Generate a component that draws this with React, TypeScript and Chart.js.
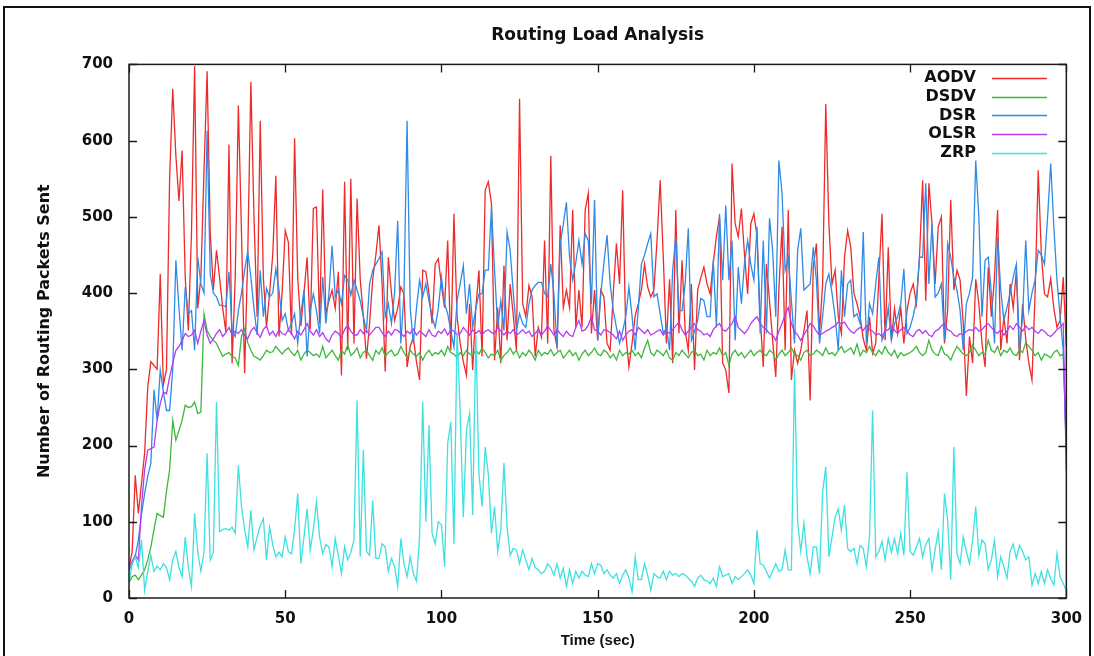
import React, { useEffect, useRef } from "react";
import { Chart, registerables } from "chart.js";

Chart.register(...registerables);

// Simulation time in seconds (x categories)
const TIMES: number[] = Array.from({ length: 301 }, (_, i) => i);

const X_TICKS = [0, 50, 100, 150, 200, 250, 300];
const Y_TICKS = [0, 100, 200, 300, 400, 500, 600, 700];

const SERIES_NAMES = ["AODV", "DSDV", "DSR", "OLSR", "ZRP"];
const SERIES_COLORS = ["#ee2a2a", "#3cb83c", "#2f8be6", "#b43cf0", "#3ee0e0"];

const AODV: number[] = [
  40, 60, 161, 111, 150, 190, 277, 310, 305, 300,
  425, 280, 300, 550, 668, 580, 521, 587, 420, 351,
  480, 698, 380, 420, 560, 691, 480, 404, 456, 420,
  380, 349, 595, 308, 420, 646, 480, 295, 450, 677,
  500, 369, 626, 420, 355, 400, 450, 554, 343, 400,
  482, 467, 345, 603, 420, 357, 400, 447, 353, 511,
  513, 360, 536, 373, 390, 404, 380, 428, 292, 546,
  325, 550, 334, 524, 418, 370, 314, 360, 418, 450,
  489, 412, 297, 447, 400, 364, 380, 408, 399, 303,
  330, 342, 310, 286, 430, 428, 400, 360, 438, 445,
  410, 381, 469, 325, 504, 369, 334, 310, 292, 386,
  299, 380, 430, 317, 535, 546, 518, 312, 381, 308,
  436, 338, 412, 370, 325, 655, 386, 369, 410, 395,
  317, 355, 342, 469, 334, 580, 351, 329, 489, 381,
  404, 381, 509, 355, 404, 355, 509, 531, 347, 404,
  338, 404, 395, 334, 325, 400, 465, 412, 535, 347,
  303, 334, 370, 386, 404, 438, 408, 395, 404, 469,
  548, 447, 334, 418, 308, 509, 347, 443, 351, 325,
  412, 299, 404, 420, 434, 412, 399, 440, 474, 500,
  308, 299, 269, 570, 491, 474, 511, 450, 399, 491,
  504, 474, 369, 303, 438, 390, 338, 290, 404, 487,
  325, 509, 286, 325, 308, 325, 350, 377, 259, 434,
  465, 347, 412, 648, 491, 412, 430, 369, 347, 447,
  482, 460, 400, 386, 369, 340, 325, 369, 321, 334,
  420, 504, 338, 460, 338, 380, 347, 381, 334, 377,
  400, 412, 386, 447, 548, 390, 544, 491, 412, 487,
  500, 334, 377, 522, 404, 430, 417, 360, 265, 343,
  308, 418, 386, 334, 303, 434, 369, 420, 509, 325,
  369, 334, 412, 380, 430, 312, 386, 340, 308, 286,
  400, 561, 450, 399, 395, 419, 380, 355, 364, 421,
  330,
];

const DSDV: number[] = [
  20, 28, 30, 24, 30, 37, 50, 67, 90, 111,
  108, 106, 140, 168, 233, 207, 220, 233, 253, 250,
  251, 257, 242, 244, 373, 351, 343, 338, 334, 325,
  317, 320, 322, 317, 315, 305, 343, 353, 335, 325,
  317, 315, 312, 318, 325, 322, 323, 330, 325, 320,
  325, 328, 322, 318, 325, 312, 320, 325, 322, 318,
  320, 316, 330, 315, 320, 325, 318, 312, 325, 320,
  332, 318, 322, 328, 315, 322, 325, 318, 312, 325,
  320, 328, 317, 322, 325, 318, 320, 330, 322, 315,
  325, 320, 317, 322, 312, 320, 325, 318, 322, 320,
  325, 318, 330, 322, 320, 315, 322, 318, 325, 320,
  318, 325, 320, 328, 322, 315, 320, 318, 325, 312,
  318, 322, 328, 320, 325, 315, 322, 318, 325, 320,
  312, 325, 318, 322, 320, 326, 318, 322, 325, 315,
  320, 325, 318, 322, 312, 320, 325, 318, 322, 328,
  320, 318, 325, 322, 315, 320, 312, 325, 318, 322,
  320, 325, 318, 322, 315, 328, 338, 322, 318, 325,
  322, 318, 325, 315, 312, 322, 318, 325, 320, 315,
  322, 325, 318, 320, 312, 325, 318, 322, 320, 328,
  318, 322, 305, 320, 325, 318, 322, 315, 320, 325,
  318, 322, 325, 320, 318, 325, 322, 312, 320, 325,
  318, 322, 328, 320, 318, 312, 322, 325, 318, 320,
  325, 322, 318, 328, 320, 322, 318, 325, 330, 322,
  325, 328, 320, 333, 318, 325, 322, 330, 322, 318,
  325, 320, 330, 322, 318, 325, 315, 322, 318, 320,
  322, 325, 330, 322, 318, 322, 338, 325, 320, 318,
  330, 320, 318, 312, 322, 330, 325, 320, 318, 322,
  332, 325, 318, 322, 320, 338, 325, 322, 330, 318,
  325, 322, 328, 320, 318, 325, 322, 335, 330, 325,
  318, 322, 312, 320, 318, 315, 322, 325, 318, 320,
  200,
];

const DSR: number[] = [
  36, 45, 55, 76, 110, 137, 160, 177, 273, 233,
  299, 270, 246, 246, 300, 443, 380, 325, 408, 373,
  377, 325, 447, 412, 400, 613, 425, 400, 395, 384,
  384, 382, 428, 351, 343, 377, 400, 430, 454, 421,
  380, 345, 430, 369, 406, 395, 400, 432, 404, 364,
  373, 351, 360, 373, 334, 373, 404, 317, 377, 399,
  377, 347, 421, 360, 400, 462, 395, 404, 386, 423,
  417, 397, 417, 404, 390, 369, 351, 412, 430, 438,
  445, 454, 369, 386, 360, 400, 495, 334, 400, 626,
  381, 334, 380, 417, 395, 412, 390, 369, 355, 380,
  421, 386, 373, 350, 329, 390, 412, 436, 373, 412,
  355, 380, 399, 399, 430, 430, 513, 430, 355, 390,
  351, 480, 456, 400, 351, 373, 360, 355, 386, 404,
  410, 414, 414, 400, 395, 438, 399, 329, 465, 490,
  519, 447, 417, 440, 469, 438, 478, 469, 386, 522,
  338, 399, 440, 476, 412, 377, 355, 334, 350, 369,
  408, 370, 325, 380, 438, 450, 465, 478, 395, 399,
  373, 347, 355, 325, 430, 474, 377, 377, 412, 485,
  338, 350, 364, 393, 390, 369, 369, 443, 355, 504,
  417, 515, 417, 469, 338, 434, 386, 440, 469, 438,
  417, 487, 347, 469, 347, 498, 456, 369, 574, 531,
  430, 447, 390, 334, 456, 485, 404, 408, 412, 460,
  417, 334, 370, 412, 425, 400, 369, 325, 430, 369,
  412, 417, 369, 373, 360, 480, 334, 386, 373, 412,
  447, 338, 347, 381, 338, 360, 369, 386, 432, 347,
  355, 370, 390, 447, 447, 544, 412, 491, 395, 400,
  412, 338, 465, 447, 420, 404, 377, 325, 386, 400,
  421, 574, 500, 369, 443, 447, 400, 334, 474, 404,
  364, 381, 400, 421, 438, 325, 369, 469, 377, 400,
  417, 456, 450, 438, 500, 570, 487, 417, 369, 325,
  190,
];

const OLSR: number[] = [
  41, 48, 56, 50, 120, 168, 194, 196, 198, 233,
  255, 270, 268, 290, 308, 325, 330, 338, 347, 343,
  345, 351, 334, 350, 364, 345, 334, 340, 347, 352,
  343, 348, 355, 345, 350, 347, 352, 345, 340, 350,
  355, 348, 342, 352, 357, 345, 350, 343, 352, 347,
  345, 352, 347, 340, 350, 345, 352, 360, 350, 345,
  352, 343, 348, 340, 336, 345, 350, 347, 342, 352,
  358, 350, 345, 345, 352, 347, 351, 345, 350, 355,
  355, 348, 343, 350, 345, 352, 351, 347, 343, 350,
  347, 353, 345, 350, 347, 343, 352, 345, 343, 350,
  347, 353, 345, 352, 350, 345, 347, 355, 350, 345,
  352, 347, 351, 345, 350, 352, 348, 347, 355, 350,
  345, 350, 347, 352, 345, 348, 352, 347, 350, 343,
  347, 352, 345, 350, 357, 351, 345, 352, 347, 343,
  350, 345, 343, 355, 364, 350, 352, 358, 369, 352,
  350, 345, 352, 351, 348, 345, 340, 350, 338, 345,
  350, 352, 345, 355, 351, 347, 352, 345, 347, 350,
  352, 345, 350, 347, 352, 357, 362, 352, 345, 350,
  355, 360, 352, 350, 345, 347, 343, 352, 357, 360,
  352, 350, 355, 360, 369, 355, 351, 347, 352, 360,
  365, 369, 360, 355, 352, 347, 345, 338, 350, 360,
  372, 381, 360, 350, 345, 338, 345, 352, 360, 357,
  350, 345, 347, 350, 352, 355, 357, 362, 360, 362,
  355, 350, 347, 352, 355, 351, 357, 352, 350, 345,
  347, 343, 350, 352, 357, 351, 347, 352, 355, 350,
  345, 343, 350, 352, 347, 351, 345, 343, 350, 352,
  357, 360, 352, 350, 345, 343, 347, 345, 350, 352,
  351, 355, 350, 352, 357, 360, 355, 350, 347, 352,
  345, 350, 357, 352, 360, 355, 350, 357, 352, 355,
  350, 347, 352, 350, 345, 343, 347, 352, 355, 360,
  168,
];

const ZRP: number[] = [
  19, 45, 54, 40, 76, 10, 35, 56, 35, 42,
  37, 45, 40, 24, 50, 61, 40, 28, 80, 40,
  15, 111, 60, 35, 60, 190, 50, 60, 257, 87,
  90, 91, 89, 93, 85, 174, 120, 90, 67, 115,
  63, 80, 95, 104, 50, 93, 70, 54, 60, 54,
  80, 61, 58, 90, 137, 45, 80, 117, 63, 90,
  126, 80, 58, 70, 67, 41, 78, 55, 32, 67,
  50, 60, 76, 259, 54, 194, 61, 56, 128, 52,
  52, 71, 67, 35, 52, 41, 15, 78, 45, 28,
  54, 32, 22, 80, 257, 100, 227, 85, 71, 100,
  96, 41, 203, 231, 71, 350, 242, 106, 220, 242,
  109, 345, 163, 120, 198, 163, 85, 120, 61, 90,
  177, 93, 56, 65, 63, 45, 63, 50, 37, 52,
  40, 37, 32, 35, 45, 40, 30, 45, 26, 39,
  15, 37, 19, 35, 26, 35, 30, 28, 45, 32,
  45, 43, 32, 37, 30, 26, 32, 19, 30, 37,
  26, 8, 54, 24, 24, 45, 30, 10, 32, 28,
  26, 35, 24, 35, 30, 32, 28, 32, 30, 26,
  22, 15, 26, 30, 24, 22, 19, 26, 15, 41,
  28, 30, 32, 19, 28, 24, 28, 32, 37, 30,
  19, 89, 45, 43, 35, 26, 35, 45, 35, 37,
  63, 37, 37, 300, 100, 61, 98, 54, 32, 67,
  67, 32, 139, 172, 54, 80, 106, 117, 89, 122,
  65, 61, 65, 45, 69, 65, 41, 80, 246, 54,
  61, 74, 50, 78, 60, 78, 58, 85, 56, 165,
  61, 56, 67, 78, 54, 70, 78, 37, 63, 87,
  37, 137, 102, 24, 198, 58, 45, 80, 61, 45,
  76, 120, 56, 76, 71, 37, 50, 76, 28, 54,
  41, 26, 61, 71, 52, 69, 61, 50, 54, 17,
  32, 19, 35, 19, 37, 25, 17, 58, 28, 19,
  10,
];

const SERIES_VALUES = [AODV, DSDV, DSR, OLSR, ZRP];

const BOLD = "'DejaVu Sans', sans-serif";
const NARROW = "'Liberation Sans', Arial, sans-serif";

const frameTicksPlugin = {
  id: "frameTicks",
  afterDatasetsDraw(chart: any) {
    const { ctx, chartArea: a, scales } = chart;
    const xs = scales.x;
    const ys = scales.y;
    ctx.save();
    ctx.strokeStyle = "#1a1a1a";
    ctx.lineWidth = 1.5;
    ctx.strokeRect(a.left, a.top, a.right - a.left, a.bottom - a.top);
    ctx.lineWidth = 1.3;
    const len = 8;
    ctx.beginPath();
    for (const v of X_TICKS) {
      const px = Math.round(xs.getPixelForValue(v)) + 0.5;
      ctx.moveTo(px, a.bottom);
      ctx.lineTo(px, a.bottom - len);
      ctx.moveTo(px, a.top);
      ctx.lineTo(px, a.top + len);
    }
    for (const v of Y_TICKS) {
      const py = Math.round(ys.getPixelForValue(v)) + 0.5;
      ctx.moveTo(a.left, py);
      ctx.lineTo(a.left + len, py);
      ctx.moveTo(a.right, py);
      ctx.lineTo(a.right - len, py);
    }
    ctx.stroke();
    ctx.restore();
  },
};

const legendPlugin = {
  id: "gnuLegend",
  afterDraw(chart: any) {
    const { ctx } = chart;
    const textRight = 976;
    const lineL = 992;
    const lineR = 1047;
    const y0 = 78;
    const step = 18.7;
    ctx.save();
    ctx.font = `bold 16px ${BOLD}`;
    ctx.textAlign = "right";
    ctx.textBaseline = "middle";
    chart.data.datasets.forEach((ds: any, i: number) => {
      const y = y0 + i * step;
      ctx.fillStyle = "#111";
      ctx.fillText(ds.label, textRight, y);
      ctx.strokeStyle = ds.borderColor;
      ctx.lineWidth = 1.3;
      ctx.beginPath();
      ctx.moveTo(lineL, Math.round(y) + 0.5);
      ctx.lineTo(lineR, Math.round(y) + 0.5);
      ctx.stroke();
    });
    ctx.restore();
  },
};

export default function App() {
  const canvasRef = useRef<HTMLCanvasElement | null>(null);

  useEffect(() => {
    const canvas = canvasRef.current;
    if (!canvas) return;
    const datasets = SERIES_NAMES.map((name, i) => ({
      label: name,
      data: TIMES.map((t, k) => ({ x: t, y: SERIES_VALUES[i][k] })),
      borderColor: SERIES_COLORS[i],
      backgroundColor: SERIES_COLORS[i],
      borderWidth: 1.3,
      pointRadius: 0,
      tension: 0,
      fill: false,
      order: SERIES_NAMES.length - i,
    }));

    const chart = new Chart(canvas, {
      type: "line",
      data: { datasets },
      options: {
        animation: false,
        responsive: false,
        devicePixelRatio: 1,
        layout: { padding: { left: 0, right: 24, top: 0, bottom: 0 } },
        plugins: {
          legend: { display: false },
          tooltip: { enabled: false },
          title: {
            display: true,
            text: "Routing Load Analysis",
            fullSize: false,
            color: "#111",
            font: { family: BOLD, size: 17, weight: "bold" },
            padding: { top: 25, bottom: 19 },
          },
        },
        scales: {
          x: {
            type: "linear",
            min: 0,
            max: 300,
            afterBuildTicks: (s: any) => {
              s.ticks = X_TICKS.map((v) => ({ value: v }));
            },
            afterFit: (s: any) => {
              s.height = 58;
            },
            grid: { display: false, drawTicks: false },
            border: { display: false },
            ticks: {
              padding: 12,
              color: "#111",
              font: { family: BOLD, size: 15, weight: "bold" },
              maxRotation: 0,
            },
            title: {
              display: true,
              text: "Time (sec)",
              color: "#111",
              font: { family: NARROW, size: 15, weight: "bold" },
              padding: { top: 0, bottom: 6 },
            },
          },
          y: {
            type: "linear",
            min: 0,
            max: 700,
            afterBuildTicks: (s: any) => {
              s.ticks = Y_TICKS.map((v) => ({ value: v }));
            },
            afterFit: (s: any) => {
              s.width = 129;
            },
            grid: { display: false, drawTicks: false },
            border: { display: false },
            ticks: {
              padding: 16,
              color: "#111",
              font: { family: BOLD, size: 15, weight: "bold" },
            },
            title: {
              display: true,
              text: "Number of Routing Packets Sent",
              color: "#111",
              font: { family: BOLD, size: 16, weight: "bold" },
              padding: { top: 35, bottom: 0 },
            },
          },
        },
      },
      plugins: [frameTicksPlugin, legendPlugin],
    } as any);

    return () => chart.destroy();
  }, []);

  return (
    <div
      style={{
        position: "fixed",
        left: 0,
        top: 0,
        width: 1094,
        height: 656,
        overflow: "hidden",
        background: "#fff",
      }}
    >
      <div
        style={{
          position: "absolute",
          left: 3,
          top: 6,
          width: 1084,
          height: 700,
          border: "2px solid #111",
        }}
      />
      <canvas
        ref={canvasRef}
        width={1094}
        height={656}
        style={{ position: "absolute", left: 0, top: 0, width: 1094, height: 656 }}
      />
    </div>
  );
}
